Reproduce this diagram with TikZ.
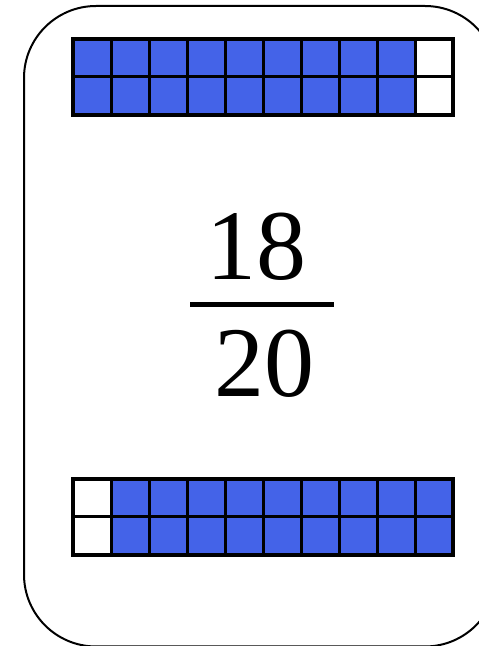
\documentclass[tikz,border=0pt]{standalone}
\usepackage{fontspec}
\setmainfont{Liberation Serif}
\usetikzlibrary{positioning}
\definecolor{CellBlue}{HTML}{4463E8}

\begin{document}
\begin{tikzpicture}[
  x=1pt,y=1pt,
  card/.style={draw=black,line width=2pt,rounded corners=72pt,fill=white},
  cell/.style={draw=black,line width=3pt,fill=CellBlue},
  blank/.style={draw=black,line width=3pt,fill=white},
  frame/.style={draw=black,line width=4pt},
  digits/.style={font=\fontsize{100}{100}\selectfont,inner sep=0pt,anchor=base},
]
\useasboundingbox (0,0) rectangle (479,646);
\clip (0,0) rectangle (479,646);
\draw[card] (24,640) rectangle (497,-0.5);

% top bar: 18 of 20 shaded
\foreach \c in {0,...,9}{
  \foreach \r in {0,1}{
    \ifnum\c<9
      \draw[cell] (73+38*\c,607-38*\r) rectangle ++(38,-38);
    \else
      \draw[blank] (73+38*\c,607-38*\r) rectangle ++(38,-38);
    \fi
  }
}
\draw[frame] (73,607) rectangle (453,531);

% bottom bar: first column empty
\foreach \c in {0,...,9}{
  \foreach \r in {0,1}{
    \ifnum\c=0
      \draw[blank] (73+38*\c,167-38*\r) rectangle ++(38,-38);
    \else
      \draw[cell] (73+38*\c,167-38*\r) rectangle ++(38,-38);
    \fi
  }
}
\draw[frame] (73,167) rectangle (453,91);

\node[digits] (num) at (256,366) {18};
\node[digits] (den) at (264,249) {20};
\coordinate (barL) at (190,341.5);
\coordinate (barR) at (334,341.5);
\draw[line width=5.5pt] (barL) -- (barR);
\end{tikzpicture}
\end{document}
